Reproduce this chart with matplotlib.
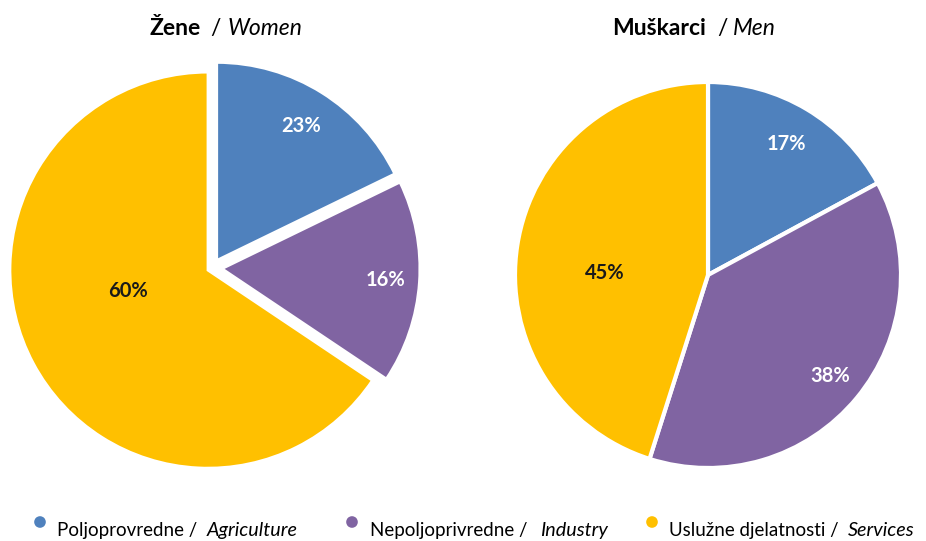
import numpy as np
import matplotlib
matplotlib.use("Agg")
import matplotlib.pyplot as plt

FONT = "Lato"
plt.rcParams['font.family'] = [FONT, 'DejaVu Sans']

categories = ["Poljoprovredne", "Nepoljoprivredne", "Uslužne djelatnosti"]
categories_en = ["Agriculture", "Industry", "Services"]
colors = ["#4F81BD", "#8064A2", "#FFC000"]

# wedge sizes as drawn in the reference, and the printed labels
women_sizes = [17.8, 16.6, 65.6]
women_labels = ["23%", "16%", "60%"]
men_sizes = [17.1, 37.8, 45.1]
men_labels = ["17%", "38%", "45%"]

W, H = 926, 541
fig = plt.figure(figsize=(W / 100, H / 100), dpi=100)


def pie_axes(cx, cy, r):
    return fig.add_axes([(cx - r) / W, 1 - (cy + r) / H, 2 * r / W, 2 * r / H])


def draw_pie(ax, sizes, labels, explode, lw, label_r, label_ang, label_col):
    wedges, _ = ax.pie(sizes, colors=colors, startangle=90, counterclock=False,
                       explode=explode, radius=1,
                       wedgeprops=dict(edgecolor="white", linewidth=lw))
    for w in wedges:
        w.set_clip_on(False)
    for w, lab, r, a, e, c in zip(wedges, labels, label_r, label_ang, explode, label_col):
        if a is None:
            ang = np.deg2rad((w.theta1 + w.theta2) / 2)
            rr = r + e
        else:
            ang = np.deg2rad(a)
            rr = r
        ax.text(rr * np.cos(ang), rr * np.sin(ang), lab, ha="center", va="center",
                fontsize=14.5, fontweight="bold", color=c)
    ax.set_xlim(-1, 1)
    ax.set_ylim(-1, 1)
    ax.set_aspect("equal")
    ax.axis("off")


ax1 = pie_axes(212, 268, 198)
draw_pie(ax1, women_sizes, women_labels, [0.045, 0.05, 0.023], 2.0,
         [0.80, 0.83, 0.44], [None, None, 195.3], ["white", "white", "#1a1a1a"])

ax2 = pie_axes(708, 275, 193)
draw_pie(ax2, men_sizes, men_labels, [0, 0, 0], 3.0,
         [0.79, 0.82, 0.535], [None, None, 179.0], ["white", "white", "#1a1a1a"])


def px(x, y):
    return x / W, 1 - y / H


# titles
tfs = 16.5
fig.text(*px(150, 35), "Žene", fontsize=tfs, fontweight="bold", va="baseline", ha="left")
fig.text(*px(210, 35), "/", fontsize=tfs, va="baseline", ha="left")
fig.text(*px(228, 35), "Women", fontsize=tfs, fontstyle="italic", va="baseline", ha="left")
fig.text(*px(612, 35), "Muškarci", fontsize=tfs, fontweight="bold", va="baseline", ha="left")
fig.text(*px(717, 35), "/", fontsize=tfs, va="baseline", ha="left")
fig.text(*px(733, 35), "Men", fontsize=tfs, fontstyle="italic", va="baseline", ha="left")

# legend
lfs = 13.5
dot_x = [40, 352, 652]
txt_x = [57, 370, 669]
it_x = [207, 540, 848]
lax = fig.add_axes([0, 0, 1, 1], facecolor="none")
lax.set_xlim(0, W)
lax.set_ylim(H, 0)
lax.axis("off")
for c, dx, tx, ix, cat, en in zip(colors, dot_x, txt_x, it_x, categories, categories_en):
    lax.scatter([dx], [522], s=70, color=c, edgecolor="none")
    lax.text(tx, 536, cat + " /", fontsize=lfs, va="baseline", ha="left")
    lax.text(ix, 536, en, fontsize=14.2, fontstyle="italic", va="baseline", ha="left")

fig.savefig("out.png", dpi=100, facecolor="white")
